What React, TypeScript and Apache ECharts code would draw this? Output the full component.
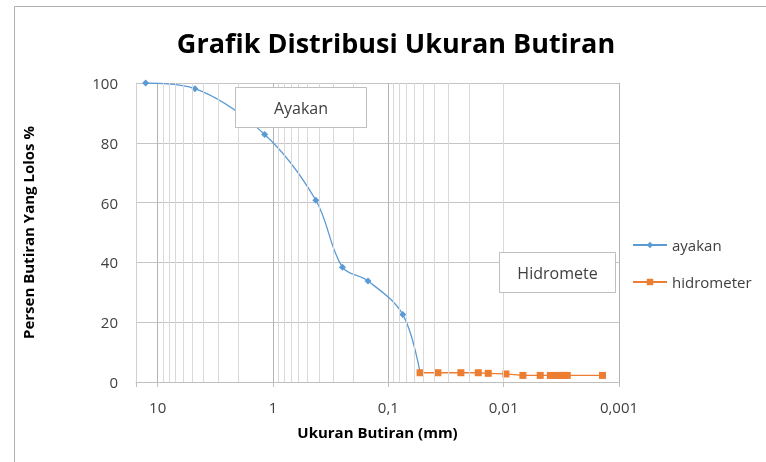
import React, { useEffect, useRef } from "react";
import * as echarts from "echarts";

const ayakanSize = [12.7, 4.75, 1.18, 0.425, 0.25, 0.15, 0.075, 0.053];
const ayakanPass = [100, 98.1, 82.8, 60.8, 38.4, 33.8, 22.6, 3.1];

const hidroSize = [0.053, 0.0372, 0.0235, 0.0166, 0.0136, 0.00956, 0.00681, 0.00482, 0.00394, 0.0035, 0.00323, 0.00301, 0.00281, 0.00139];
const hidroPass = [3.1, 3.1, 3.1, 3.1, 2.9, 2.7, 2.2, 2.2, 2.2, 2.2, 2.2, 2.2, 2.2, 2.2];

const xMin = 0.001;
const xMax = 15.4;
const yTicks = [0, 20, 40, 60, 80, 100];

const FONT = "'Open Sans', Lato, sans-serif";

export default function App() {
  const ref = useRef<HTMLDivElement>(null);
  useEffect(() => {
    if (!ref.current) return;
    const chart = echarts.init(ref.current, undefined, { renderer: "svg" });
    const minor: number[] = [];
    for (let k = -3; k <= 0; k++) {
      for (let m = 2; m <= 9; m++) minor.push(Number((m * Math.pow(10, k)).toPrecision(3)));
    }
    const isPow10 = (v: number) => {
      const l = Math.log10(v);
      return Math.abs(l - Math.round(l)) < 1e-6;
    };
    chart.setOption({
      animation: false,
      textStyle: { fontFamily: FONT },
      title: {
        text: "Grafik Distribusi Ukuran Butiran",
        left: 391,
        textAlign: "center",
        top: 24,
        textStyle: { fontSize: 27, fontWeight: "bold", color: "#000", fontFamily: FONT },
      },
      legend: {
        orient: "vertical",
        left: 632,
        top: 236,
        padding: 0,
        itemWidth: 34,
        itemHeight: 8,
        itemGap: 19,
        data: ["ayakan", "hidrometer"],
        textStyle: { fontSize: 15, color: "#404040", lineHeight: 18, fontFamily: FONT },
      },
      grid: { left: 136, right: 147, top: 83, bottom: 80, containLabel: false },
      xAxis: {
        type: "log",
        logBase: 10,
        min: xMin,
        max: xMax,
        inverse: true,
        name: "Ukuran Butiran (mm)",
        nameLocation: "middle",
        nameGap: 42,
        nameTextStyle: { fontSize: 15, fontWeight: "bold", color: "#000", fontFamily: FONT },
        axisLine: { show: true, lineStyle: { color: "#bfbfbf" } },
        axisTick: { show: true, length: 5, lineStyle: { color: "#bfbfbf" } },
        axisLabel: {
          fontSize: 15,
          color: "#404040",
          margin: 17,
          formatter: (v: number) => (isPow10(v) ? String(Number(v.toPrecision(6))).replace(".", ",") : ""),
        },
        splitLine: { show: true, lineStyle: { color: "#b4b4b4", width: 1 } },
      },
      yAxis: {
        type: "value",
        min: yTicks[0],
        max: yTicks[yTicks.length - 1],
        interval: 20,
        name: "Persen Butiran Yang Lolos %",
        nameLocation: "middle",
        nameRotate: 90,
        nameGap: 101,
        nameMoveOverlap: false,
        nameTextStyle: { fontSize: 15, fontWeight: "bold", color: "#000", fontFamily: FONT },
        axisLine: { show: true, lineStyle: { color: "#d0d0d0" } },
        axisTick: { show: false },
        axisLabel: { fontSize: 15, color: "#404040", margin: 18 },
        splitLine: { show: true, lineStyle: { color: "#c4c4c4", width: 1 } },
      },
      graphic: [
        {
          type: "rect",
          shape: { x: 14.5, y: 6.5, width: 800, height: 500 },
          style: { fill: "none", stroke: "#b0b0b0", lineWidth: 1 },
          z: -10,
          silent: true,
        },
        {
          type: "rect",
          z: 100,
          shape: { x: 235.5, y: 87.5, width: 131, height: 40 },
          style: { fill: "#ffffff", stroke: "#bfbfbf", lineWidth: 1 },
        },
        {
          type: "text",
          z: 101,
          x: 301,
          y: 107.5,
          style: { text: "Ayakan", fill: "#404040", font: `16px ${FONT}`, align: "center", verticalAlign: "middle" },
        },
        {
          type: "rect",
          z: 100,
          shape: { x: 499.5, y: 252.5, width: 116, height: 40 },
          style: { fill: "#ffffff", stroke: "#bfbfbf", lineWidth: 1 },
        },
        {
          type: "text",
          z: 101,
          x: 557.5,
          y: 272.5,
          style: { text: "Hidromete", fill: "#404040", font: `16px ${FONT}`, align: "center", verticalAlign: "middle" },
        },
      ],
      series: [
        {
          name: "minorGrid",
          type: "line",
          data: [],
          silent: true,
          z: 0,
          markLine: {
            silent: true,
            symbol: ["none", "none"],
            label: { show: false },
            lineStyle: { color: "#d9d9d9", width: 1, type: "solid" },
            emphasis: { disabled: true },
            data: minor.map((v) => ({ xAxis: v })),
          },
        },
        {
          name: "ayakan",
          type: "line",
          smooth: 0.35,
          symbol: "diamond",
          symbolSize: 7,
          z: 3,
          data: ayakanSize.map((s, i) => [s, ayakanPass[i]]),
          itemStyle: { color: "#5b9bd5" },
          lineStyle: { color: "#5b9bd5", width: 1.3 },
        },
        {
          name: "hidrometer",
          type: "line",
          symbol: "rect",
          symbolSize: 7,
          z: 4,
          data: hidroSize.map((s, i) => [s, hidroPass[i]]),
          itemStyle: { color: "#ed7d31" },
          lineStyle: { color: "#ed7d31", width: 1.3 },
        },
      ],
    });
    return () => chart.dispose();
  }, []);
  return <div ref={ref} style={{ position: "fixed", left: 0, top: 0, width: 766, height: 462 }} />;
}
